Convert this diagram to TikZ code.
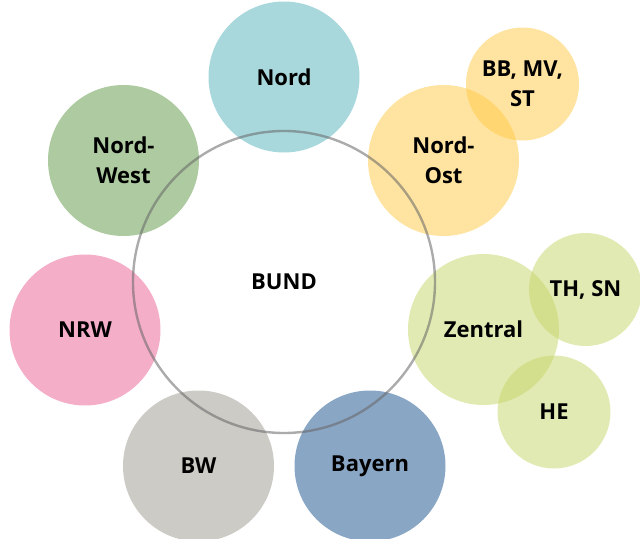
\documentclass[tikz,border=0pt]{standalone}
\usepackage{fontspec}
\setmainfont{Open Sans}
\begin{document}
\begin{tikzpicture}[x=0.75pt,y=-0.75pt,
  lab/.style={font=\fontsize{16.5}{22.5}\selectfont\bfseries,text=black},
  big/.style={lab,circle,inner sep=0pt,minimum size=151*0.75pt,align=center},
  small/.style={lab,circle,inner sep=0pt,minimum size=113*0.75pt,align=center},
  yel/.style={fill={rgb,255:red,255;green,200;blue,67},fill opacity=0.5,text opacity=1},
  grn/.style={fill={rgb,255:red,197;green,213;blue,103},fill opacity=0.5,text opacity=1}]
\useasboundingbox (0,0) rectangle (640,539);
\node[big,fill={rgb,255:red,168;green,216;blue,220}] (nord) at (284,77) {Nord};
\node[big,fill={rgb,255:red,173;green,202;blue,160}] (nw) at (123.5,160.5) {Nord-\\West};
\node[big,fill={rgb,255:red,244;green,174;blue,200}] (nrw) at (85,330) {NRW};
\node[big,fill={rgb,255:red,204;green,203;blue,198}] (bw) at (198.5,466) {BW};
\node[big,fill={rgb,255:red,138;green,166;blue,197}] (bay) at (370,466) {Bayern};
\node[big,yel] (no) at (443.5,160.5) {Nord-\\Ost};
\node[small,yel] (bb) at (522.5,84) {BB, MV,\\ST};
\node[big,grn] (zen) at (483.5,329.5) {Zentral};
\node[small,grn] (th) at (585.5,289.5) {TH, SN};
\node[small,grn] (he) at (554,412) {HE};
\node[lab,circle,inner sep=0pt,minimum size=302*0.75pt,draw=black!60,draw opacity=0.55,line width=1.8pt,
  text opacity=1] (bund) at (284,282) {BUND};
\end{tikzpicture}
\end{document}
